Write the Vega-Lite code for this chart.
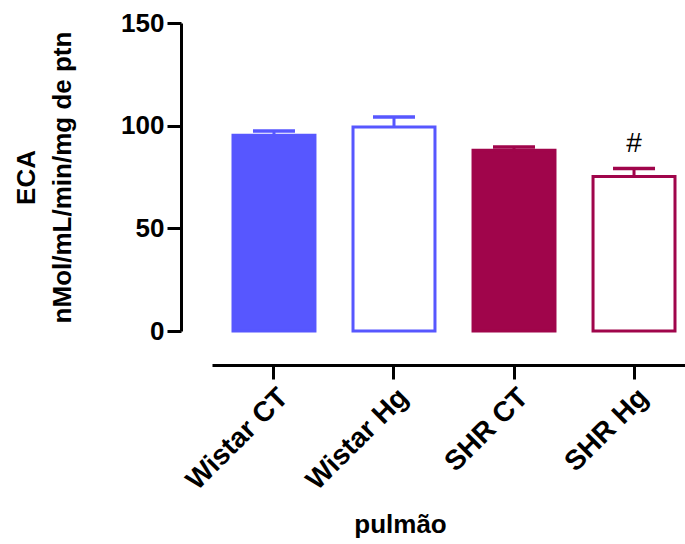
{
  "$schema": "https://vega.github.io/schema/vega-lite/v6.json",
  "width": 484,
  "height": 308,
  "padding": {"left": 13, "top": 10, "right": 0, "bottom": 0},
  "background": "white",
  "data": {
    "values": [
      {"group": "Wistar CT", "value": 95.3, "upper": 97.4, "sig": ""},
      {"group": "Wistar Hg", "value": 99.4, "upper": 104.2, "sig": ""},
      {"group": "SHR CT", "value": 88.0, "upper": 89.6, "sig": ""},
      {"group": "SHR Hg", "value": 75.2, "upper": 79.1, "sig": "#"}
    ]
  },
  "config": {
    "view": {"stroke": null},
    "font": "Liberation Sans",
    "axis": {
      "domainColor": "black",
      "domainWidth": 3,
      "tickColor": "black",
      "tickWidth": 3,
      "tickSize": 14,
      "labelColor": "black",
      "labelFont": "Liberation Sans",
      "labelFontSize": 26,
      "labelFontWeight": "bold",
      "titleColor": "black",
      "titleFont": "Liberation Sans",
      "titleFontSize": 26,
      "titleFontWeight": "bold",
      "grid": false
    }
  },
  "encoding": {
    "x": {
      "field": "group",
      "type": "nominal",
      "sort": null,
      "scale": {"paddingInner": 0.317, "paddingOuter": 0.175},
      "axis": {
        "title": "pulmão",
        "offset": 34,
        "labelAngle": -45,
        "labelPadding": 4,
        "labelFontSize": 28,
        "titlePadding": 16,
        "titleX": 188
      }
    }
  },
  "layer": [
    {
      "mark": {"type": "bar", "strokeWidth": 3},
      "encoding": {
        "y": {
          "field": "value",
          "type": "quantitative",
          "scale": {"domain": [0, 150], "nice": false},
          "axis": {
            "values": [0, 50, 100, 150],
            "offset": 31,
            "labelPadding": 3,
            "title": ["ECA", "nMol/mL/min/mg de ptn"],
            "titleLineHeight": 36,
            "titlePadding": 45
          }
        },
        "fill": {
          "field": "group",
          "type": "nominal",
          "scale": {"domain": ["Wistar CT", "Wistar Hg", "SHR CT", "SHR Hg"], "range": ["#5757FF", "#FFFFFF", "#A0054B", "#FFFFFF"]},
          "legend": null
        },
        "stroke": {
          "field": "group",
          "type": "nominal",
          "scale": {"domain": ["Wistar CT", "Wistar Hg", "SHR CT", "SHR Hg"], "range": ["#5757FF", "#5757FF", "#A0054B", "#A0054B"]},
          "legend": null
        }
      }
    },
    {
      "mark": {"type": "rule", "strokeWidth": 3},
      "encoding": {
        "y": {"field": "value", "type": "quantitative"},
        "y2": {"field": "upper"},
        "color": {
          "field": "group",
          "type": "nominal",
          "scale": {"domain": ["Wistar CT", "Wistar Hg", "SHR CT", "SHR Hg"], "range": ["#5757FF", "#5757FF", "#A0054B", "#A0054B"]},
          "legend": null
        }
      }
    },
    {
      "mark": {"type": "tick", "size": 42, "thickness": 3.5, "opacity": 1},
      "encoding": {
        "y": {"field": "upper", "type": "quantitative"},
        "color": {"field": "group", "type": "nominal", "legend": null}
      }
    },
    {
      "mark": {"type": "text", "fontSize": 28, "font": "Liberation Sans", "dy": -25, "color": "black"},
      "encoding": {
        "y": {"field": "upper", "type": "quantitative"},
        "text": {"field": "sig"}
      }
    }
  ]
}
